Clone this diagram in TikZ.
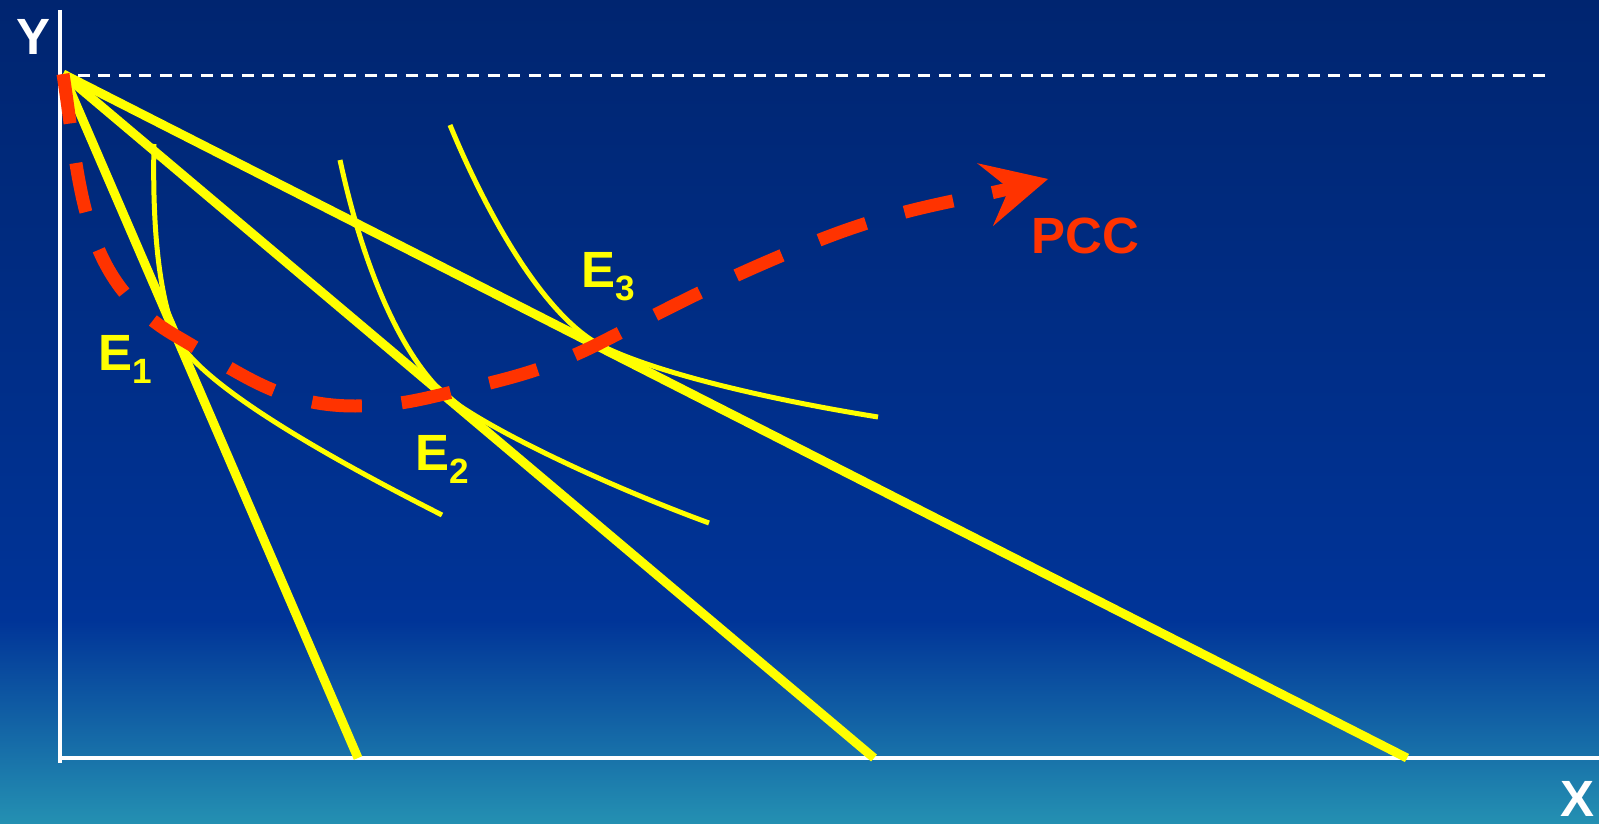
\documentclass[tikz,border=0pt]{standalone}
\usepackage{fontspec}
\setmainfont{Liberation Sans}
\usetikzlibrary{arrows.meta}

\definecolor{bgtop}{RGB}{0,37,112}
\definecolor{bgmid}{RGB}{0,52,152}
\definecolor{bgbot}{RGB}{36,144,178}
\definecolor{pccred}{RGB}{255,51,0}
\definecolor{icyellow}{RGB}{255,255,0}

\newcommand{\sublabel}[2]{#1\raisebox{-0.26em}{\fontsize{20}{20}\selectfont #2}}

\begin{document}
\begin{tikzpicture}[
        x=0.02cm, y=0.02cm,
        axis/.style={draw=white, line width=0.08cm},
        budget/.style={draw=icyellow, line width=0.18cm},
        indiff/.style={draw=icyellow, line width=0.1cm},
        refline/.style={draw=white, line width=0.06cm, dash pattern=on 0.24cm off 0.17cm},
        pcc/.style={draw=pccred, line width=0.26cm, dash pattern=on 1cm off 0.8cm,
            -{Stealth[length=1.3cm, width=1.3cm, inset=0.5cm, line width=0pt]}},
        lbl/.style={font=\bfseries\fontsize{29}{29}\selectfont, inner sep=0pt, anchor=base west}
    ]
        % Background
        \shade[top color=bgtop, bottom color=bgmid] (0,203) rectangle (1599,823);
        \shade[top color=bgmid, bottom color=bgbot] (0,0) rectangle (1599,203.5);
        \useasboundingbox (0,0) rectangle (1599,823);

        % Coordinates
        \coordinate (origin) at (60,65);
        \coordinate (ytop) at (60,813);
        \coordinate (ybot) at (60,60);
        \coordinate (xend) at (1599,65);
        \coordinate (apex) at (63,749);
        \coordinate (refend) at (1552,747.5);
        \coordinate (b1) at (358,65);
        \coordinate (b2) at (874,65);
        \coordinate (b3) at (1407,65);
        \coordinate (e1) at (176,487);
        \coordinate (e2) at (444,429);
        \coordinate (e3) at (598,479);
        \coordinate (pmin) at (355,417);
        \coordinate (pmid) at (812,580);
        \coordinate (ptip) at (1048,644);

        % Axes
        \draw[axis] (ytop) -- (ybot);
        \draw[axis] (origin) -- (xend);
        \draw[refline] ([xshift=15*0.02cm]apex |- refend) -- (refend);

        % Budget lines
        \draw[budget] (apex) -- (b1);
        \draw[budget] (apex) -- (b2);
        \draw[budget] (apex) -- (b3);

        % Indifference curves
        \draw[indiff] (154,679) .. controls (152,590) and (160,525) .. (e1)
            .. controls (195,445) and (300,380) .. (442,308);
        \draw[indiff] (340,663) .. controls (360,570) and (395,475) .. (e2)
            .. controls (480,398) and (600,340) .. (709,300);
        \draw[indiff] (450,698) .. controls (478,630) and (535,515) .. (e3)
            .. controls (650,452) and (760,425) .. (878,406);

        % Price consumption curve
        \draw[pcc] (apex) to[out=-81, in=150] (e1) to[out=-30, in=180] (pmin)
            to[out=0, in=-166.5] (e2) to[out=13.5, in=206.5] (e3)
            to[out=27, in=202] (pmid) to[out=22, in=194] (ptip);

        % Labels
        \node[lbl, text=white] (ylabel) at (16,768) {Y};
        \node[lbl, text=white] (xlabel) at (1560,7) {X};
        \node[lbl, text=icyellow] (e1label) at (98,453) {\sublabel{E}{1}};
        \node[lbl, text=icyellow] (e2label) at (415,353) {\sublabel{E}{2}};
        \node[lbl, text=icyellow] (e3label) at (581,536) {\sublabel{E}{3}};
        \node[lbl, text=pccred] (pcclabel) at (1031,570) {PCC};
    \end{tikzpicture}
\end{document}
